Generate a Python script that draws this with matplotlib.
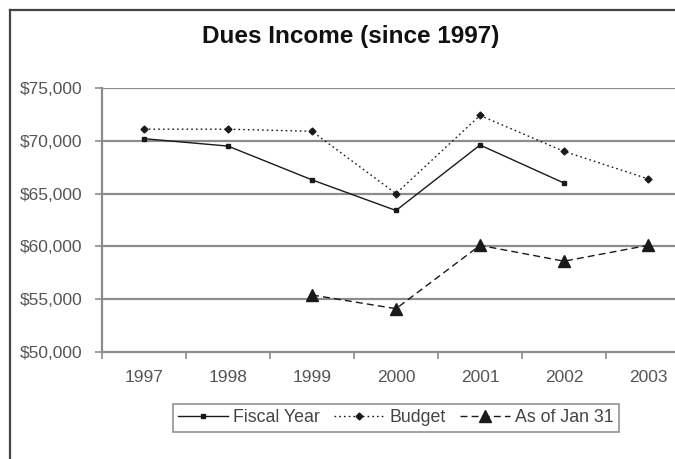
import matplotlib
matplotlib.use("Agg")
import matplotlib.pyplot as plt
from matplotlib.lines import Line2D

plt.rcParams['font.family'] = ['Liberation Sans', 'DejaVu Sans']

years = ['1997', '1998', '1999', '2000', '2001', '2002', '2003']
fiscal_year = [70200, 69500, 66300, 63400, 69600, 66000, None]
budget = [71100, 71100, 70900, 65000, 72400, 69000, 66400]
as_of_jan31 = [None, None, 55400, 54100, 60100, 58600, 60100]
y_ticks = [50000, 55000, 60000, 65000, 70000, 75000]


def series(vals):
    xs = [i for i, v in enumerate(vals) if v is not None]
    ys = [v for v in vals if v is not None]
    return xs, ys


fig = plt.figure(figsize=(6.75, 4.59), dpi=100)
ax = fig.add_axes([102 / 675, 1 - 352 / 459, 588 / 675, 264 / 459])

ink = '#1a1a1a'
grid_c = '#8c8c8c'

for y in y_ticks[1:]:
    ax.axhline(y, color=grid_c, lw=1.6, zorder=1)

x, y = series(fiscal_year)
ax.plot(x, y, color=ink, lw=1.0, marker='s', ms=3.5, label='Fiscal Year', zorder=3)
x, y = series(budget)
ax.plot(x, y, color=ink, lw=1.0, ls=(0, (1.2, 2.2)), marker='D', ms=3.5, label='Budget', zorder=3)
x, y = series(as_of_jan31)
ax.plot(x, y, color=ink, lw=1.0, ls=(0, (5, 3)), marker='^', ms=8, label='As of Jan 31', zorder=3)

ax.set_xlim(-0.5, 6.5)
ax.set_ylim(50000, 75000)
ax.set_yticks(y_ticks)
ax.set_yticklabels([f'${v:,}' for v in y_ticks])
ax.set_xticks(range(len(years)))
ax.set_xticklabels(years)
ax.set_xticks([i - 0.5 for i in range(len(years) + 1)], minor=True)

for side in ('top', 'right'):
    ax.spines[side].set_visible(False)
for side in ('left', 'bottom'):
    ax.spines[side].set_color(grid_c)
    ax.spines[side].set_linewidth(1.6)

ax.tick_params(axis='y', colors=grid_c, labelcolor='#555555', labelsize=12.5,
               length=5, width=1.2, pad=9, direction='out')
ax.tick_params(axis='x', which='major', length=0, labelcolor='#555555', labelsize=12.5, pad=13)
ax.tick_params(axis='x', which='minor', length=5, width=1.2, color=grid_c, direction='out')

fig.text(351 / 675, 1 - 37 / 459, 'Dues Income (since 1997)', ha='center', va='center',
         fontsize=17.5, fontweight='bold', color='#111111')

leg = fig.legend(loc='center', bbox_to_anchor=(396 / 675, 1 - 418 / 459), ncol=3,
                 fontsize=12.8, frameon=True, fancybox=False, handlelength=2.8,
                 handletextpad=0.3, columnspacing=0.8, borderpad=0.3)
leg.get_frame().set_edgecolor('#777777')
leg.get_frame().set_linewidth(1.2)
for t in leg.get_texts():
    t.set_color('#444444')

# outer frame along the top and left edges
fig.add_artist(Line2D([10 / 675, 10 / 675], [0, 1 - 10 / 459], transform=fig.transFigure,
                      color='#444444', lw=1.6))
fig.add_artist(Line2D([10 / 675, 1], [1 - 10 / 459, 1 - 10 / 459], transform=fig.transFigure,
                      color='#444444', lw=1.6))

fig.savefig('out.png', dpi=100)
